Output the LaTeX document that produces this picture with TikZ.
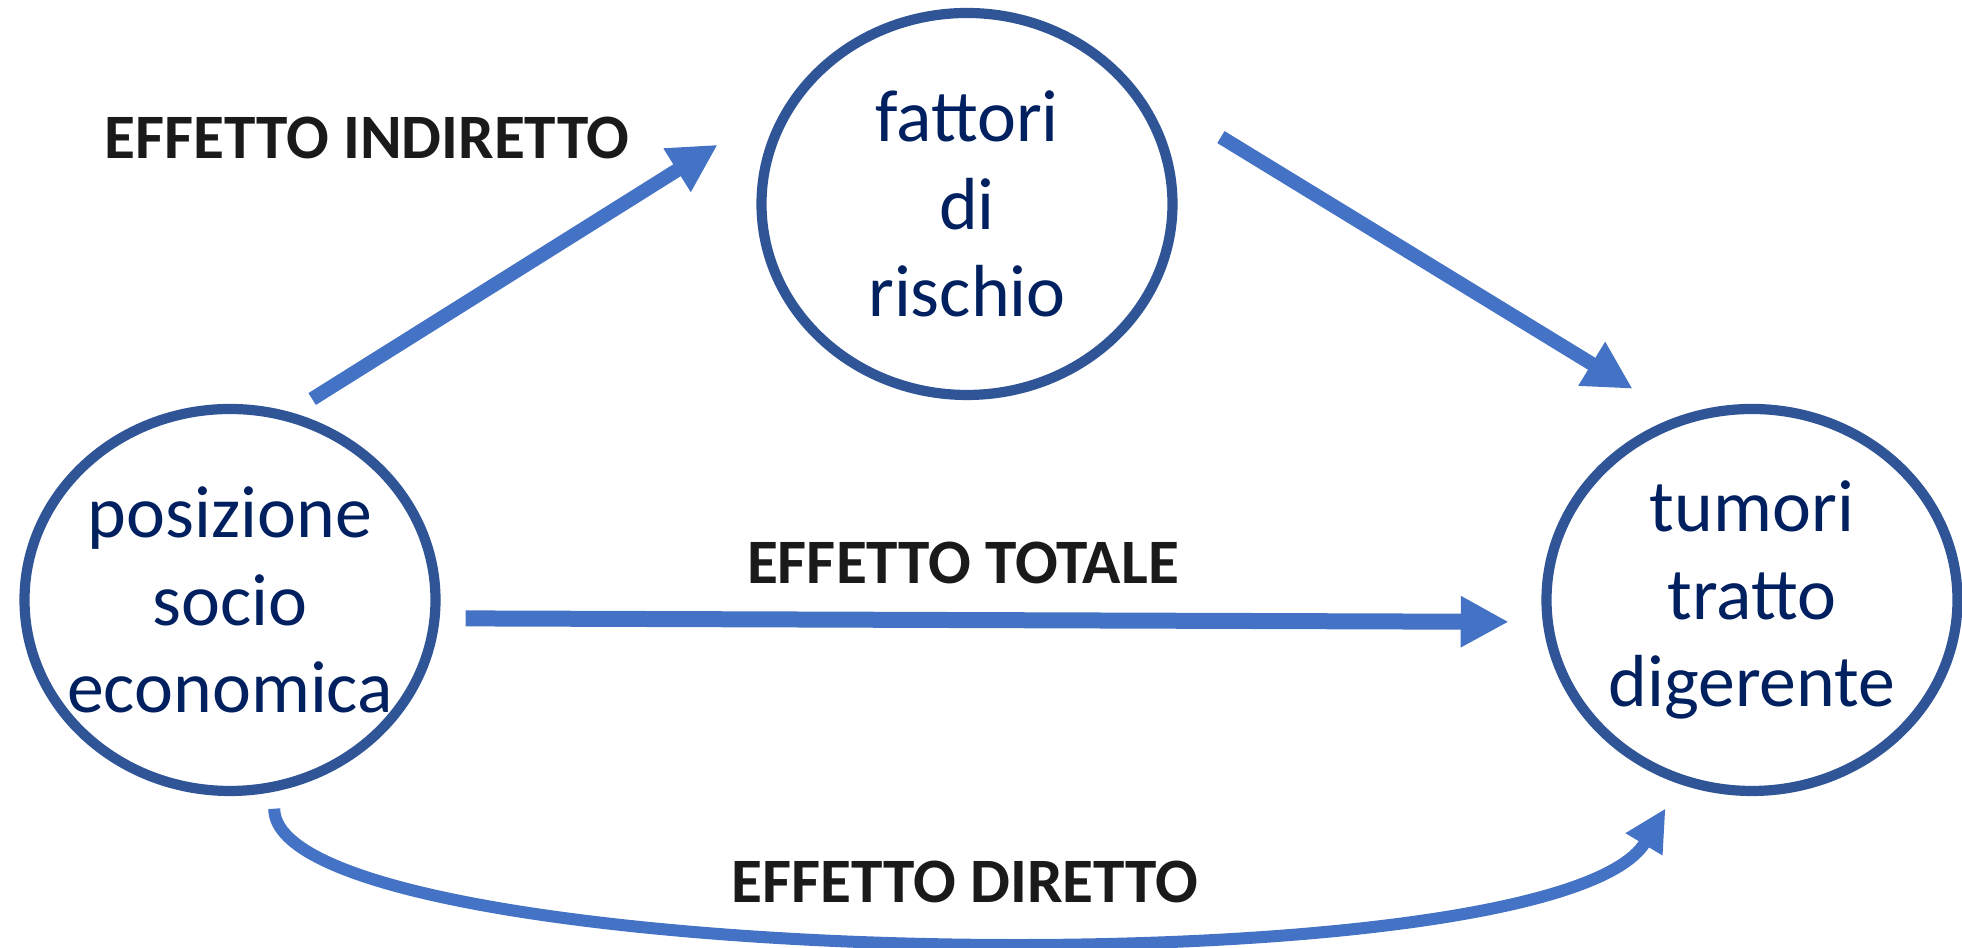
\documentclass[tikz,border=0pt]{standalone}
\usepackage{fontspec}
\setmainfont{Carlito}
\usetikzlibrary{shapes.geometric,arrows.meta}
\definecolor{arrowblue}{HTML}{4472C4}
\definecolor{ringblue}{HTML}{2F5597}
\definecolor{navy}{HTML}{002060}
\definecolor{inkblack}{HTML}{1A1A1A}

\begin{document}
\begin{tikzpicture}
[bubble/.style={ellipse, draw=ringblue, line width=2.9pt, minimum width=4.11cm,
   minimum height=3.82cm, inner xsep=-4mm, inner ysep=0pt, align=center,
   text=navy, font=\fontsize{21}{25}\selectfont},
 effect/.style={font=\bfseries\fontsize{18}{22}\selectfont, text=inkblack},
 fat/.style={draw=arrowblue, line width=#1,
   -{Triangle[length=0.48cm, width=0.48cm]}}]
\useasboundingbox (0,0) rectangle (19.62,9.48);
\node[bubble](risk) at (9.67,7.44){fattori\\di\\rischio};
\node[bubble](pos) at (2.30,3.48){posizione\\socio\\economica};
\node[bubble](tum) at (17.52,3.48){tumori\\tratto\\digerente};
\node[effect](ind) at (3.67,8.10){EFFETTO INDIRETTO};
\node[effect](tot) at (9.63,3.85){EFFETTO TOTALE};
\node[effect](dir) at (9.65,0.66){EFFETTO DIRETTO};
\draw[fat=0.14cm, shorten <=2.5mm, shorten >=8.3mm] (pos.72) -- (risk.150.6);
\draw[fat=0.14cm, shorten <=10.3mm, shorten >=5.3mm] (risk.36.3) -- (tum.112);
\draw[fat=0.16cm, shorten <=2.6mm, shorten >=3.4mm] (pos.-5) -- (tum.186);
\draw[draw=arrowblue, line width=0.12cm, -{Triangle[length=0.42cm, width=0.40cm]}]
  ([yshift=-1.7mm]pos.-77) .. controls +(0,-1.62) and +(-1.13,-1.88)
  .. ([shift={(-0.09,-0.26)}]tum.-113);
\end{tikzpicture}
\end{document}
